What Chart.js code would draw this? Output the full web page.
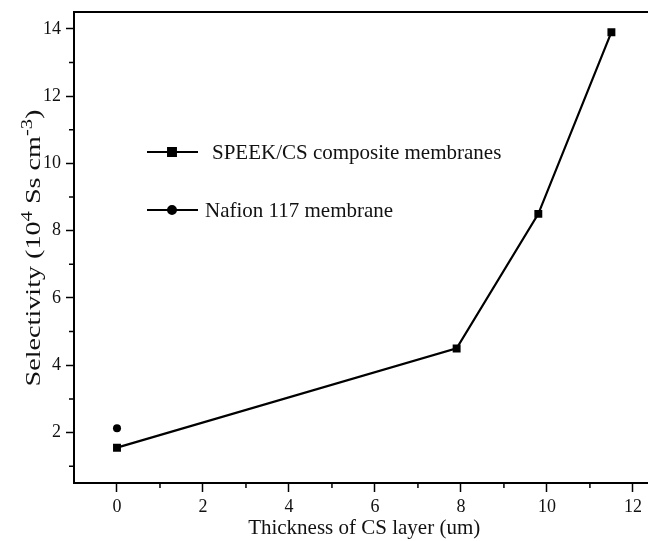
<!DOCTYPE html>
<html>
<head>
<meta charset="utf-8">
<script src="https://cdn.jsdelivr.net/npm/chart.js@4/dist/chart.umd.min.js"></script>
<style>
  html, body { margin: 0; padding: 0; background: #fff; overflow: hidden; }
  #clip { width: 648px; height: 541px; overflow: hidden; }
  #wrap { width: 660px; height: 541px; position: relative; }
</style>
</head>
<body>
<div id="clip"><div id="wrap"><canvas id="selectivityChart"></canvas></div></div>
<script>
// data
const speekThickness = [0, 7.9, 9.8, 11.5];
const speekSelectivity = [1.55, 4.5, 8.5, 13.9];
const nafionThickness = [0];
const nafionSelectivity = [2.13];

const xMajorTicks = [0, 2, 4, 6, 8, 10, 12];
const xMinorTicks = [1, 3, 5, 7, 9, 11];
const yMajorTicks = [2, 4, 6, 8, 10, 12, 14];
const yMinorTicks = [1, 3, 5, 7, 9, 11, 13];

const seriesNames = ['SPEEK/CS composite membranes', 'Nafion 117 membrane'];

const serif = '"Liberation Serif", "Times New Roman", serif';
const ink = '#111';

function toPoints(xs, ys) {
    return xs.map((x, i) => ({ x: x, y: ys[i] }));
}

// frame top line, minor ticks, legend and y title
const decorPlugin = {
    id: 'decor',
    afterDraw(chart) {
        const ctx = chart.ctx;
        const area = chart.chartArea;
        const xs = chart.scales.x;
        const ys = chart.scales.y;

        ctx.save();
        ctx.strokeStyle = '#000';

        // top frame
        ctx.lineWidth = 2;
        ctx.beginPath();
        ctx.moveTo(area.left - 1, area.top);
        ctx.lineTo(area.right, area.top);
        ctx.stroke();

        // minor ticks
        ctx.lineWidth = 1.5;
        ctx.beginPath();
        xMinorTicks.forEach(v => {
            const px = xs.getPixelForValue(v);
            ctx.moveTo(px, area.bottom);
            ctx.lineTo(px, area.bottom + 5);
        });
        yMinorTicks.forEach(v => {
            const py = ys.getPixelForValue(v);
            ctx.moveTo(area.left, py);
            ctx.lineTo(area.left - 5, py);
        });
        ctx.stroke();

        // legend inside plot
        const legendY = [152, 210];
        const legendTextX = [212, 205];
        chart.data.datasets.forEach((ds, i) => {
            const y = legendY[i];
            ctx.strokeStyle = ds.borderColor;
            ctx.lineWidth = 2;
            ctx.beginPath();
            ctx.moveTo(147, y);
            ctx.lineTo(198, y);
            ctx.stroke();
            ctx.fillStyle = ds.pointBackgroundColor;
            Chart.helpers.drawPoint(ctx, {
                pointStyle: ds.pointStyle,
                radius: ds.pointRadius,
                borderWidth: 1
            }, 172, y);
            ctx.fillStyle = ink;
            ctx.font = '21px ' + serif;
            ctx.textBaseline = 'middle';
            ctx.textAlign = 'left';
            ctx.fillText(seriesNames[i], legendTextX[i], y + 1);
        });

        // y axis title with superscripts (stretched along the text like the original)
        const parts = [
            { t: 'Selectivity (10', sup: false },
            { t: '4', sup: true },
            { t: ' Ss cm', sup: false },
            { t: '-3', sup: true },
            { t: ')', sup: false }
        ];
        const big = '22px ' + serif;
        const small = '16px ' + serif;
        let total = 0;
        parts.forEach(p => {
            ctx.font = p.sup ? small : big;
            p.w = ctx.measureText(p.t).width;
            total += p.w;
        });
        ctx.translate(33, 248);
        ctx.rotate(-Math.PI / 2);
        ctx.scale(1.28, 1);
        ctx.fillStyle = ink;
        ctx.textAlign = 'left';
        ctx.textBaseline = 'alphabetic';
        let cx = -total / 2;
        parts.forEach(p => {
            ctx.font = p.sup ? small : big;
            ctx.fillText(p.t, cx, p.sup ? -1 : 7);
            cx += p.w;
        });
        ctx.restore();
    }
};

document.addEventListener('DOMContentLoaded', function () {
    const ctx = document.getElementById('selectivityChart').getContext('2d');

    new Chart(ctx, {
        type: 'line',
        data: {
            datasets: [
                {
                    label: seriesNames[0],
                    data: toPoints(speekThickness, speekSelectivity),
                    borderColor: '#000',
                    borderWidth: 2.2,
                    pointStyle: 'rect',
                    pointRadius: 5.6,
                    pointBackgroundColor: '#000',
                    pointBorderColor: '#000',
                    pointBorderWidth: 0,
                    tension: 0
                },
                {
                    label: seriesNames[1],
                    data: toPoints(nafionThickness, nafionSelectivity),
                    borderColor: '#000',
                    borderWidth: 2.2,
                    pointStyle: 'circle',
                    pointRadius: 4,
                    pointBackgroundColor: '#000',
                    pointBorderColor: '#000',
                    pointBorderWidth: 0
                }
            ]
        },
        options: {
            responsive: true,
            maintainAspectRatio: false,
            animation: false,
            layout: {
                padding: { top: 12, right: 0, bottom: 0, left: 0 }
            },
            plugins: {
                legend: { display: false },
                tooltip: { enabled: false }
            },
            scales: {
                x: {
                    type: 'linear',
                    min: -1,
                    max: 12.5,
                    afterBuildTicks: scale => {
                        scale.ticks = xMajorTicks.map(v => ({ value: v }));
                    },
                    afterFit: scale => {
                        scale.height = 58;
                    },
                    grid: {
                        drawOnChartArea: false,
                        drawTicks: true,
                        tickLength: 9,
                        tickWidth: 1.5,
                        tickColor: '#000'
                    },
                    border: { display: true, color: '#000', width: 2 },
                    ticks: {
                        color: ink,
                        font: { family: serif, size: 18 },
                        padding: 4,
                        maxRotation: 0,
                        autoSkip: false
                    },
                    title: {
                        display: true,
                        text: 'Thickness of CS layer (um)',
                        color: ink,
                        font: { family: serif, size: 21 },
                        padding: { top: 0, bottom: 0 }
                    }
                },
                y: {
                    type: 'linear',
                    min: 0.5,
                    max: 14.5,
                    afterBuildTicks: scale => {
                        scale.ticks = yMajorTicks.map(v => ({ value: v }));
                    },
                    afterFit: scale => {
                        scale.width = 74;
                        scale.paddingTop = 0;
                        scale.paddingBottom = 0;
                    },
                    grid: {
                        drawOnChartArea: false,
                        drawTicks: true,
                        tickLength: 8,
                        tickWidth: 1.5,
                        tickColor: '#000'
                    },
                    border: { display: true, color: '#000', width: 2 },
                    ticks: {
                        color: ink,
                        font: { family: serif, size: 18 },
                        padding: 5
                    }
                }
            }
        },
        plugins: [decorPlugin]
    });
});
</script>
</body>
</html>
